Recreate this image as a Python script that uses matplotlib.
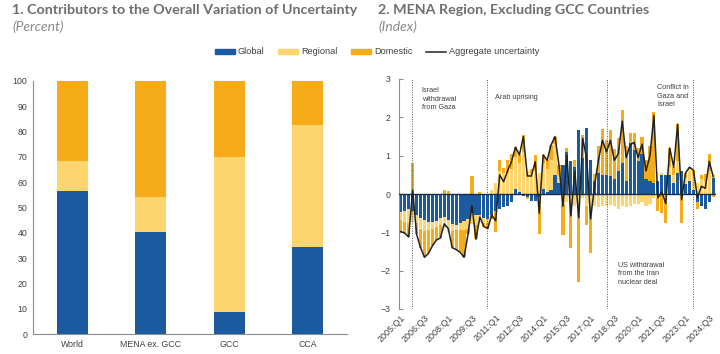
import matplotlib
matplotlib.use("Agg")
import matplotlib.pyplot as plt
import numpy as np
from matplotlib.patches import Patch
from matplotlib.lines import Line2D

# ---------------- Panel 1 data ----------------
regions = ["World", "MENA ex. GCC", "GCC", "CCA"]
share_global = [56.5, 40.5, 8.5, 34.5]
share_regional = [12.0, 13.5, 61.5, 48.0]
share_domestic = [31.5, 46.0, 30.0, 17.5]

# ---------------- Panel 2 data (2005Q1 .. 2024Q4) ----------------
years = list(range(2005, 2025))
quarters = [f"{y}:Q{q}" for y in years for q in range(1, 5)]

glob = [-0.46, -0.44, -0.40, -0.45, -0.55, -0.62, -0.68, -0.72, -0.72, -0.70,
        -0.63, -0.60, -0.68, -0.77, -0.80, -0.75, -0.70, -0.65, -0.50, -0.55,
        -0.55, -0.62, -0.65, -0.55, -0.45, -0.40, -0.35, -0.30, -0.20, 0.12,
        0.06, -0.05, -0.08, -0.18, -0.18, -0.08, 0.12, 0.05, 0.10, 0.50,
        0.30, 0.75, 1.10, 0.85, 0.70, 1.67, 0.95, 1.72, 0.90, 0.35,
        0.55, 0.50, 0.50, 0.48, 0.38, 0.60, 0.80, 0.35, 1.32, 1.15,
        0.85, 1.05, 0.40, 0.35, 0.30, 0.35, 0.50, 0.50, 0.50, 0.30,
        0.55, 0.60, 0.25, 0.35, 0.10, -0.20, -0.30, -0.38, -0.20, 0.42]
reg = [-0.22, -0.30, -0.35, -0.27, -0.20, -0.28, -0.28, -0.22, -0.18, -0.15,
       -0.17, -0.28, -0.30, -0.20, -0.15, -0.20, -0.25, -0.25, -0.27, -0.25,
       -0.10, -0.13, -0.10, 0.10, 0.30, 0.60, 0.55, 0.55, 0.65, 0.85,
       0.75, 1.10, 0.60, 0.55, 0.62, 0.55, 0.70, 0.60, 0.80, 0.80,
       0.20, -0.25, -0.20, -0.22, -0.30, -0.30, -0.10, -0.30, -0.30, -0.30,
       -0.35, -0.30, -0.30, -0.28, -0.30, -0.40, -0.30, -0.33, -0.30, -0.25,
       -0.25, -0.20, -0.30, -0.25, -0.10, -0.10, 0.05, -0.10, 0.20, 0.20,
       0.30, -0.05, 0.20, 0.30, 0.40, 0.30, 0.40, 0.35, 0.60, 0.10]
dom = [-0.30, -0.30, -0.37, 0.82, -0.30, -0.50, -0.69, -0.61, -0.45, -0.35,
       -0.35, 0.10, 0.08, -0.43, -0.50, -0.57, -0.70, -0.15, 0.47, -0.38,
       0.05, -0.10, -0.15, -0.10, -0.55, 0.30, 0.12, 0.35, 0.40, 0.25,
       0.21, 0.45, -0.05, 0.10, 0.40, -0.97, 0.20, 0.23, 0.38, 0.20,
       0.25, -0.82, 0.10, -1.20, 0.20, -1.99, 0.60, -0.50, -1.25, 0.18,
       0.70, 1.20, 0.90, 1.20, 0.80, 0.85, 1.40, 0.90, 0.26, 0.45,
       0.35, 0.45, 0.50, 0.90, 1.85, -0.35, -0.50, -0.65, 0.50, 0.20,
       0.97, -0.70, 0.10, 0.05, 0.12, -0.20, 0.10, 0.18, 0.45, -0.07]
agg = [-0.98, -1.02, -1.12, 0.10, -1.05, -1.40, -1.65, -1.55, -1.35, -1.20,
       -1.15, -0.78, -0.90, -1.40, -1.45, -1.52, -1.65, -1.05, -0.30, -1.18,
       -0.60, -0.85, -0.90, -0.55, -0.70, 0.50, 0.32, 0.60, 0.85, 1.22,
       1.02, 1.50, 0.47, 0.47, 0.84, -0.50, 1.02, 0.88, 1.28, 1.50,
       0.75, -0.32, 1.00, -0.57, 0.60, -0.62, 1.45, 0.92, -0.65, 0.23,
       0.90, 1.40, 1.10, 1.40, 0.88, 1.05, 1.90, 0.95, 1.28, 1.35,
       0.95, 1.30, 0.60, 1.00, 2.05, -0.10, 0.05, -0.25, 1.20, 0.70,
       1.82, -0.15, 0.55, 0.70, 0.62, -0.10, 0.20, 0.15, 0.85, 0.45]

tick_labels = ["2005:Q1", "2006:Q3", "2008:Q1", "2009:Q3", "2011:Q1", "2012:Q3",
               "2014:Q1", "2015:Q3", "2017:Q1", "2018:Q3", "2020:Q1", "2021:Q3",
               "2023:Q1", "2024:Q3"]

events = ["Israel\nwithdrawal\nfrom Gaza", "Arab uprising",
          "US withdrawal\nfrom the Iran\nnuclear deal", "Conflict in\nGaza and\nIsrael"]
event_pos = [2.9, 21.7, 52.2, 74.0]
event_text_xy = [(5.3, 2.78), (23.9, 2.62), (55.0, -1.78), (64.9, 2.86)]

C_GLOBAL = "#1b5a9e"
C_REGIONAL = "#fdd56f"
C_DOMESTIC = "#f6ab18"
TITLE_C = "#6e6e6e"
TXT = "#404040"

fig = plt.figure(figsize=(7.2, 3.54), dpi=100)

# titles
fig.text(12/720, 1-4/354, "1. Contributors to the Overall Variation of Uncertainty",
         fontsize=10.3, fontweight="bold", family="Lato", color=TITLE_C, va="top", ha="left")
fig.text(12/720, 1-20/354, "(Percent)", fontsize=10.0, style="italic", family="Lato",
         color="#8a8a8a", va="top", ha="left")
fig.text(378/720, 1-4/354, "2. MENA Region, Excluding GCC Countries",
         fontsize=10.3, fontweight="bold", family="Lato", color=TITLE_C, va="top", ha="left")
fig.text(378/720, 1-20/354, "(Index)", fontsize=10.0, style="italic", family="Lato",
         color="#8a8a8a", va="top", ha="left")

# ---------------- Panel 1 ----------------
ax1 = fig.add_axes([33/720, 1-334/354, 314/720, 253/354])
x1 = np.arange(len(regions))
g = np.array(share_global)
r = np.array(share_regional)
d = np.array(share_domestic)
ax1.bar(x1, g, width=0.4, color=C_GLOBAL)
ax1.bar(x1, r, width=0.4, bottom=g, color=C_REGIONAL)
ax1.bar(x1, d, width=0.4, bottom=g + r, color=C_DOMESTIC)
ax1.set_xlim(-0.5, 3.5)
ax1.set_ylim(0, 100)
ax1.set_yticks(range(0, 101, 10))
ax1.set_xticks(x1)
ax1.set_xticklabels(regions)
for s in ["top", "right"]:
    ax1.spines[s].set_visible(False)
for s in ["left", "bottom"]:
    ax1.spines[s].set_color("#8c8c8c")
    ax1.spines[s].set_linewidth(0.8)
ax1.tick_params(axis="both", length=0, labelsize=6.3, labelcolor=TXT, pad=4)
for lab in ax1.get_xticklabels() + ax1.get_yticklabels():
    lab.set_family("Liberation Sans")

# ---------------- Panel 2 ----------------
ax2 = fig.add_axes([399/720, 1-309/354, 317/720, 230/354])
n = len(quarters)
x2 = np.arange(n)
G = np.array(glob)
R = np.array(reg)
D = np.array(dom)
pos_base = np.zeros(n)
neg_base = np.zeros(n)
for vals, col in [(G, C_GLOBAL), (R, C_REGIONAL), (D, C_DOMESTIC)]:
    p = np.where(vals > 0, vals, 0)
    q = np.where(vals < 0, vals, 0)
    ax2.bar(x2, p, width=0.8, bottom=pos_base, color=col, linewidth=0)
    ax2.bar(x2, q, width=0.8, bottom=neg_base, color=col, linewidth=0)
    pos_base += p
    neg_base += q
ax2.axhline(0, color="#1c2b45", linewidth=1.0, zorder=3)
ax2.plot(x2, agg, color="#222222", linewidth=1.1, zorder=4)
for xp in event_pos:
    ax2.axvline(xp, color="#555555", linestyle=(0, (1, 1.5)), linewidth=0.7, zorder=2)
for (tx, ty), t in zip(event_text_xy, events):
    ax2.text(tx, ty, t, fontsize=5.2, family="Liberation Sans", color=TXT,
             va="top", ha="left", linespacing=1.25)
ax2.set_xlim(-0.45, 79.7)
ax2.set_ylim(-3, 3)
ax2.set_yticks(range(-3, 4))
tick_idx = [quarters.index(t) for t in tick_labels]
ax2.set_xticks(tick_idx)
ax2.set_xticklabels(tick_labels, rotation=45, ha="right", va="top", rotation_mode="anchor")
for s in ["top", "right", "bottom"]:
    ax2.spines[s].set_visible(False)
ax2.spines["left"].set_color("#8c8c8c")
ax2.spines["left"].set_linewidth(0.8)
ax2.tick_params(axis="y", direction="in", length=3, color="#8c8c8c", labelsize=6.3,
                labelcolor=TXT, pad=6)
ax2.tick_params(axis="x", length=0, labelsize=6.4, labelcolor=TXT, pad=3)
for lab in ax2.get_xticklabels() + ax2.get_yticklabels():
    lab.set_family("Liberation Sans")

# ---------------- Legend ----------------
handles = [Patch(color=C_GLOBAL), Patch(color=C_REGIONAL), Patch(color=C_DOMESTIC),
           Line2D([], [], color="#222222", linewidth=1.1)]
labels = ["Global", "Regional", "Domestic", "Aggregate uncertainty"]
fig.legend(handles, labels, loc="center", bbox_to_anchor=(377/720, 1-52/354), ncol=4,
           frameon=False, handlelength=2.2, handleheight=0.45, handletextpad=0.3,
           columnspacing=1.5, prop={"family": "Liberation Sans", "size": 6.6},
           labelcolor=TXT)

fig.savefig("out.png", dpi=100)
